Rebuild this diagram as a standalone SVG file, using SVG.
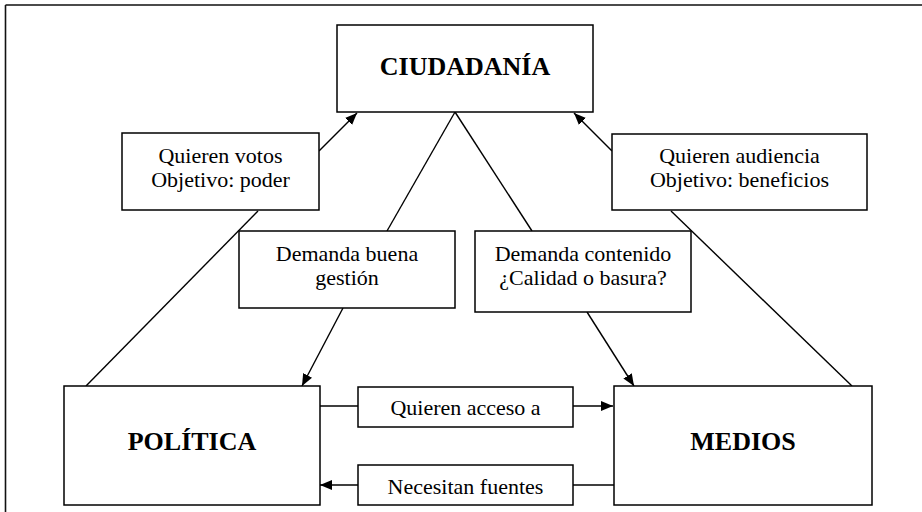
<svg xmlns="http://www.w3.org/2000/svg" width="922" height="512" viewBox="0 0 922 512">
<style>
.box{fill:#fff;stroke:#000;stroke-width:1.5}
.t{font-family:'Liberation Serif','Times New Roman',serif;font-size:22px;fill:#000;text-anchor:middle}
.b{font-family:'Liberation Serif','Times New Roman',serif;font-size:26px;font-weight:bold;fill:#000;text-anchor:middle}
.c{fill:none;stroke:#000;stroke-width:1.4}
</style>
<defs>
<marker id="ah" markerUnits="userSpaceOnUse" markerWidth="14" markerHeight="12" refX="12" refY="5" orient="auto">
<path d="M0,0 L12,5 L0,10 Z" fill="#000"/>
</marker>
</defs>
<rect width="922" height="512" fill="#fff"/>
<g id="frame">
<path d="M5.5,5 H922 M5.5,5 V512" fill="none" stroke="#111" stroke-width="1.6"/>
</g>
<g id="connectors">
<line class="c" x1="319" y1="151" x2="357" y2="113" marker-end="url(#ah)"/>
<line class="c" x1="612" y1="151" x2="574" y2="113" marker-end="url(#ah)"/>
<line class="c" x1="455" y1="112" x2="387" y2="231"/>
<line class="c" x1="455" y1="112" x2="532" y2="231"/>
<line class="c" x1="343" y1="308" x2="302" y2="386" marker-end="url(#ah)"/>
<line class="c" x1="587" y1="312" x2="634" y2="386" marker-end="url(#ah)"/>
<line class="c" x1="258" y1="211" x2="86" y2="386"/>
<line class="c" x1="671" y1="211" x2="852" y2="386"/>
<line class="c" x1="320" y1="406" x2="358" y2="406"/>
<line class="c" x1="573" y1="406" x2="613" y2="406" marker-end="url(#ah)"/>
<line class="c" x1="614" y1="485" x2="573" y2="485"/>
<line class="c" x1="358" y1="485" x2="320" y2="485" marker-end="url(#ah)"/>
</g>
<g id="ciudadania">
<rect class="box" x="337" y="25" width="256" height="87"/>
<text class="b" x="465" y="75">CIUDADANÍA</text>
</g>
<g id="votos">
<rect class="box" x="122" y="133" width="197" height="77"/>
<text class="t" x="220.5" y="163">Quieren votos</text>
<text class="t" x="220.5" y="187">Objetivo: poder</text>
</g>
<g id="audiencia">
<rect class="box" x="612" y="134" width="255" height="76"/>
<text class="t" x="739.5" y="163">Quieren audiencia</text>
<text class="t" x="739.5" y="187">Objetivo: beneficios</text>
</g>
<g id="gestion">
<rect class="box" x="239" y="231" width="216" height="77"/>
<text class="t" x="347" y="261">Demanda buena</text>
<text class="t" x="347" y="285">gestión</text>
</g>
<g id="contenido">
<rect class="box" x="475" y="231" width="216" height="81"/>
<text class="t" x="583" y="261">Demanda contenido</text>
<text class="t" x="583" y="285">¿Calidad o basura?</text>
</g>
<g id="politica">
<rect class="box" x="64" y="386" width="256" height="119"/>
<text class="b" x="192" y="450">POLÍTICA</text>
</g>
<g id="medios">
<rect class="box" x="614" y="386" width="258" height="119"/>
<text class="b" x="743" y="450">MEDIOS</text>
</g>
<g id="acceso">
<rect class="box" x="358" y="387" width="215" height="40"/>
<text class="t" x="465.5" y="415">Quieren acceso a</text>
</g>
<g id="fuentes">
<rect class="box" x="358" y="465" width="215" height="40"/>
<text class="t" x="465.5" y="494">Necesitan fuentes</text>
</g>
</svg>
